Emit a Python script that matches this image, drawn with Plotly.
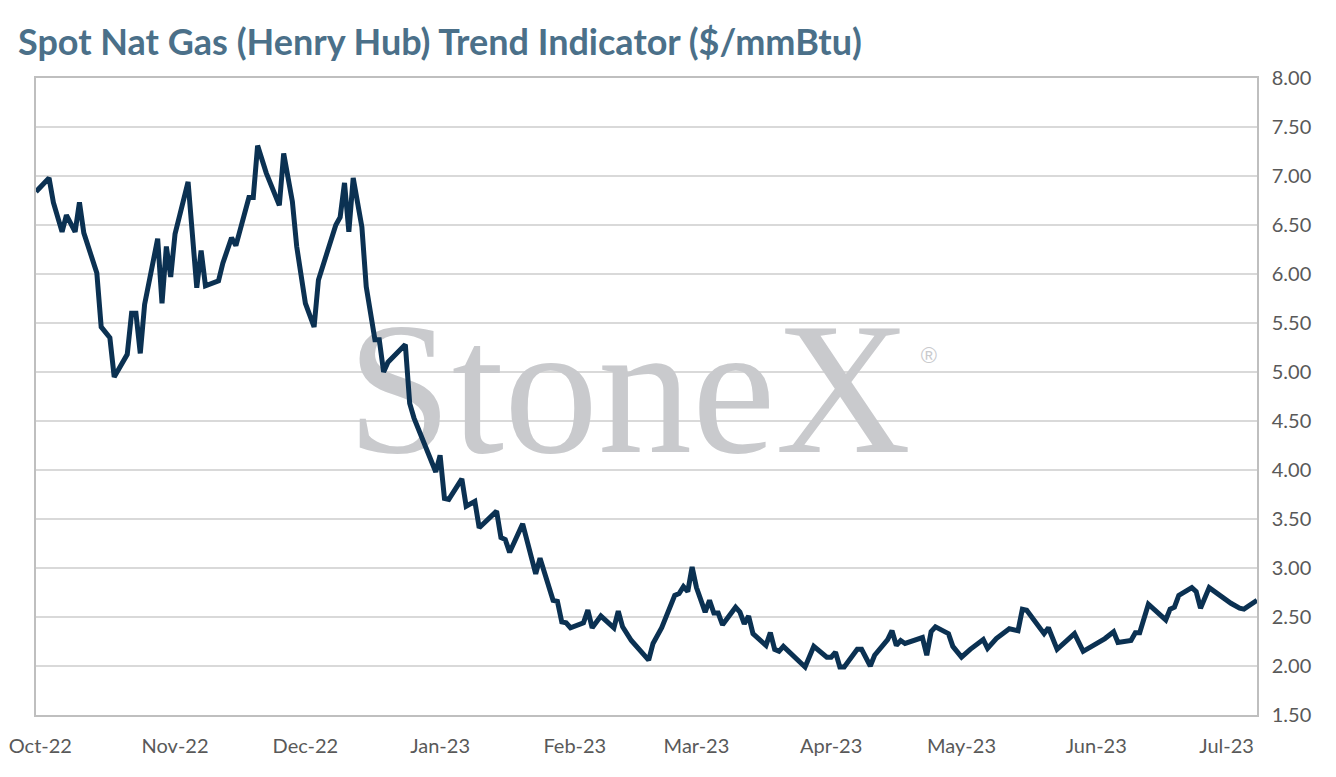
import plotly.graph_objects as go

# Henry Hub spot trend indicator ($/mmBtu)
dates = [
    "2022-09-30", "2022-10-03", "2022-10-04", "2022-10-06", "2022-10-07", "2022-10-09",
    "2022-10-10", "2022-10-11", "2022-10-14", "2022-10-15", "2022-10-17", "2022-10-18",
    "2022-10-21", "2022-10-22", "2022-10-23", "2022-10-24", "2022-10-25", "2022-10-28",
    "2022-10-29", "2022-10-30", "2022-10-31",
    "2022-11-01", "2022-11-04", "2022-11-06", "2022-11-07", "2022-11-08", "2022-11-11",
    "2022-11-12", "2022-11-14", "2022-11-15", "2022-11-18", "2022-11-19", "2022-11-20",
    "2022-11-22", "2022-11-25", "2022-11-26", "2022-11-28", "2022-11-29",
    "2022-12-01", "2022-12-03", "2022-12-04", "2022-12-06", "2022-12-08", "2022-12-09",
    "2022-12-10", "2022-12-11", "2022-12-12", "2022-12-14", "2022-12-15", "2022-12-17",
    "2022-12-18", "2022-12-19", "2022-12-20", "2022-12-24", "2022-12-25", "2022-12-26",
    "2022-12-31",
    "2023-01-01", "2023-01-02", "2023-01-03", "2023-01-06", "2023-01-07", "2023-01-09",
    "2023-01-10", "2023-01-14", "2023-01-15", "2023-01-16", "2023-01-17", "2023-01-20",
    "2023-01-23", "2023-01-24", "2023-01-27", "2023-01-28", "2023-01-29", "2023-01-30",
    "2023-01-31",
    "2023-02-03", "2023-02-04", "2023-02-05", "2023-02-07", "2023-02-10", "2023-02-11",
    "2023-02-12", "2023-02-14", "2023-02-18", "2023-02-19", "2023-02-21", "2023-02-24",
    "2023-02-25", "2023-02-26", "2023-02-27", "2023-02-28",
    "2023-03-01", "2023-03-03", "2023-03-04", "2023-03-05", "2023-03-06", "2023-03-07",
    "2023-03-10", "2023-03-11", "2023-03-12", "2023-03-13", "2023-03-14", "2023-03-17",
    "2023-03-18", "2023-03-19", "2023-03-20", "2023-03-21", "2023-03-24", "2023-03-26",
    "2023-03-28", "2023-03-31",
    "2023-04-01", "2023-04-02", "2023-04-03", "2023-04-04", "2023-04-07", "2023-04-08",
    "2023-04-10", "2023-04-11", "2023-04-14", "2023-04-15", "2023-04-16", "2023-04-17",
    "2023-04-18", "2023-04-22", "2023-04-23", "2023-04-24", "2023-04-25", "2023-04-28",
    "2023-04-29",
    "2023-05-01", "2023-05-03", "2023-05-06", "2023-05-07", "2023-05-09", "2023-05-12",
    "2023-05-14", "2023-05-15", "2023-05-16", "2023-05-20", "2023-05-21", "2023-05-23",
    "2023-05-27", "2023-05-29",
    "2023-06-03", "2023-06-05", "2023-06-06", "2023-06-09", "2023-06-10", "2023-06-11",
    "2023-06-13", "2023-06-17", "2023-06-18", "2023-06-19", "2023-06-20", "2023-06-23",
    "2023-06-24", "2023-06-25", "2023-06-27",
    "2023-07-02", "2023-07-04", "2023-07-05", "2023-07-08",
]
prices = [
    6.84, 6.98, 6.73, 6.43, 6.60, 6.43,
    6.73, 6.42, 6.01, 5.46, 5.35, 4.95,
    5.18, 5.60, 5.60, 5.19, 5.69, 6.36,
    5.70, 6.28, 5.97,
    6.41, 6.94, 5.86, 6.24, 5.88, 5.93,
    6.11, 6.37, 6.29, 6.78, 6.78, 7.31,
    7.03, 6.70, 7.23, 6.74, 6.28,
    5.70, 5.46, 5.94, 6.22, 6.50, 6.58,
    6.93, 6.43, 6.98, 6.48, 5.87, 5.33,
    5.33, 5.00, 5.10, 5.28, 4.68, 4.53,
    3.98,
    4.15, 3.71, 3.70, 3.91, 3.63, 3.68,
    3.41, 3.58, 3.31, 3.29, 3.16, 3.45,
    2.94, 3.10, 2.67, 2.66, 2.45, 2.44,
    2.39,
    2.44, 2.57, 2.39, 2.51, 2.39, 2.56,
    2.40, 2.26, 2.06, 2.23, 2.39, 2.72,
    2.74, 2.81, 2.76, 3.01,
    2.80, 2.55, 2.67, 2.54, 2.54, 2.42,
    2.60, 2.55, 2.43, 2.51, 2.33, 2.21,
    2.34, 2.17, 2.15, 2.20, 2.08, 1.99,
    2.20, 2.09,
    2.09, 2.14, 1.99, 1.99, 2.17, 2.17,
    2.00, 2.11, 2.27, 2.36, 2.21, 2.26,
    2.23, 2.29, 2.11, 2.35, 2.40, 2.33,
    2.20,
    2.09, 2.17, 2.27, 2.18, 2.28, 2.38,
    2.36, 2.58, 2.57, 2.33, 2.39, 2.17,
    2.33, 2.15,
    2.28, 2.35, 2.24, 2.26, 2.34, 2.34,
    2.63, 2.47, 2.58, 2.60, 2.72, 2.80,
    2.76, 2.59, 2.80,
    2.64, 2.59, 2.58, 2.67,
]

title_text = "Spot Nat Gas (Henry Hub) Trend Indicator ($/mmBtu)"

fig = go.Figure()

# StoneX watermark, drawn as a text trace so it sits under the line
fig.add_trace(
    go.Scatter(
        x=["2023-02-13 12:00"],
        y=[4.66],
        mode="text",
        text=["StoneX"],
        textposition="middle center",
        textfont=dict(family="Liberation Serif", size=188, color="#c9cacd"),
        hoverinfo="skip",
    )
)
fig.add_trace(
    go.Scatter(
        x=["2023-04-23 12:00"],
        y=[5.15],
        mode="text",
        text=["®"],
        textposition="middle center",
        textfont=dict(family="Liberation Sans", size=22, color="#c9cacd"),
        hoverinfo="skip",
    )
)

fig.add_trace(
    go.Scatter(
        x=dates,
        y=prices,
        mode="lines",
        line=dict(color="#0b3152", width=5),
        name="Henry Hub",
    )
)

# the page adds an 8px body margin, so the margins are trimmed by that much
fig.update_layout(
    width=1336,
    height=777,
    margin=dict(l=28, r=87, t=70, b=70),
    paper_bgcolor="white",
    plot_bgcolor="white",
    showlegend=False,
    title=dict(
        text=title_text,
        x=10 / 1336,
        xanchor="left",
        xref="container",
        y=1 - 34 / 777,
        yanchor="middle",
        yref="container",
        font=dict(family="Lato", size=36, color="#4b7089", weight="bold"),
    ),
)

fig.update_xaxes(
    type="date",
    range=["2022-09-30", "2023-07-08"],
    tick0="2022-10-01",
    dtick="M1",
    tickformat="%b-%y",
    showgrid=False,
    showline=True,
    linecolor="#bfbfbf",
    linewidth=1.5,
    mirror=True,
    ticks="",
    ticklabelstandoff=12,
    automargin=False,
    tickfont=dict(family="Lato", size=20, color="#595959"),
)

fig.update_yaxes(
    range=[1.5, 8.0],
    dtick=0.5,
    tickformat=".2f",
    side="right",
    showgrid=True,
    gridcolor="#d9d9d9",
    gridwidth=1.5,
    showline=True,
    linecolor="#bfbfbf",
    linewidth=1.5,
    mirror=True,
    ticks="",
    ticklabelstandoff=9,
    zeroline=False,
    automargin=False,
    tickfont=dict(family="Lato", size=20, color="#595959"),
)

fig.write_html("out.html")
